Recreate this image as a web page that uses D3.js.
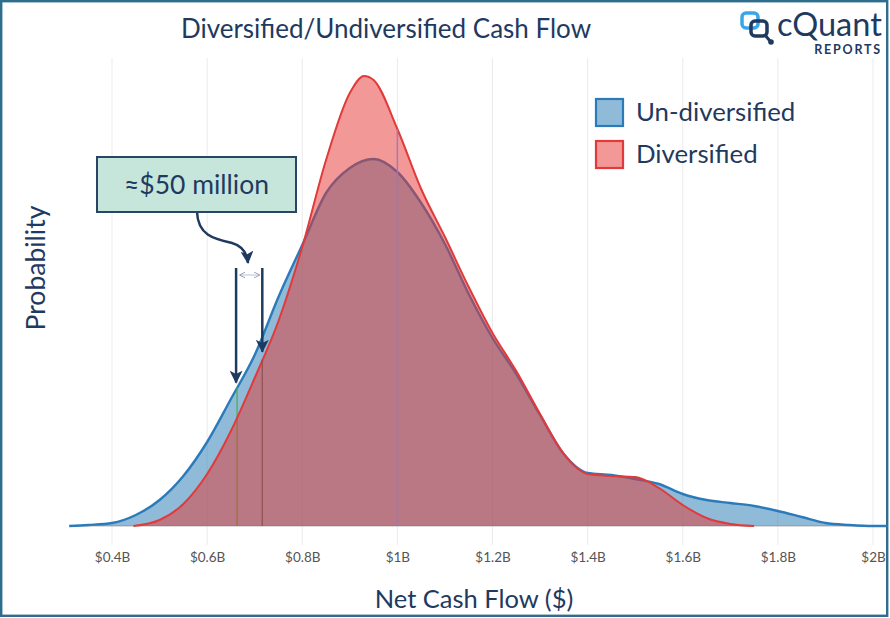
<!DOCTYPE html>
<html><head><meta charset="utf-8">
<script src="https://cdn.jsdelivr.net/npm/d3@7"></script>
<style>
body{margin:0;background:#fff}
svg{display:block}
text{font-family:Lato,"Open Sans",sans-serif}
</style>
</head><body>
<svg id="c" width="890" height="618"></svg>
<script>
// ---- data ----
const xTicks = [0.4, 0.6, 0.8, 1.0, 1.2, 1.4, 1.6, 1.8, 2.0];
const tickLabels = ["$0.4B", "$0.6B", "$0.8B", "$1B", "$1.2B", "$1.4B", "$1.6B", "$1.8B", "$2B"];
const seriesNames = ["Un-diversified", "Diversified"];

const undivX = [0.31, 0.35, 0.4, 0.45, 0.5, 0.55, 0.6, 0.65, 0.7, 0.75, 0.8, 0.85, 0.9, 0.95, 1.0, 1.05, 1.1, 1.15, 1.2, 1.25, 1.3, 1.35, 1.4, 1.45, 1.5, 1.55, 1.6, 1.65, 1.7, 1.75, 1.8, 1.85, 1.9, 1.95, 2.0, 2.03];
const undivY = [0, 0.01, 0.03, 0.11, 0.26, 0.50, 0.84, 1.27, 1.71, 2.29, 2.81, 3.33, 3.58, 3.67, 3.54, 3.23, 2.82, 2.32, 1.88, 1.52, 1.11, 0.72, 0.53, 0.51, 0.47, 0.42, 0.32, 0.26, 0.23, 0.20, 0.15, 0.09, 0.03, 0.01, 0, 0];

const divX = [0.445, 0.5, 0.55, 0.6, 0.65, 0.7, 0.75, 0.8, 0.85, 0.9, 0.93, 0.95, 1.0, 1.05, 1.1, 1.15, 1.2, 1.25, 1.3, 1.35, 1.4, 1.45, 1.5, 1.55, 1.6, 1.65, 1.7, 1.75];
const divY = [0, 0.06, 0.22, 0.52, 0.95, 1.48, 2.05, 2.79, 3.66, 4.33, 4.50, 4.46, 3.97, 3.37, 2.89, 2.39, 1.93, 1.55, 1.12, 0.72, 0.52, 0.50, 0.49, 0.38, 0.21, 0.08, 0.02, 0];

const markerX = [0.663, 0.716];     // percentile lines (≈$50 million apart)
const meanX = 1.0;
const annotationText = "≈$50 million";
const arrowTopY = 2.58;              // top of the two annotation arrows (density units)

// ---- layout ----
const svg = d3.select("#c");
const x = d3.scaleLinear().domain([0.4, 2.0]).range([112, 873]);
const y = d3.scaleLinear().domain([0, 4.5]).range([526, 76]);
const navy = "#1f3a5f";

const undiv = undivX.map((v, i) => ({x: v, y: undivY[i]}));
const div = divX.map((v, i) => ({x: v, y: divY[i]}));
function interp(arrX, arrY, v) {
  for (let i = 0; i < arrX.length - 1; i++) {
    if (v >= arrX[i] && v <= arrX[i + 1]) {
      const t = (v - arrX[i]) / (arrX[i + 1] - arrX[i]);
      return arrY[i] + t * (arrY[i + 1] - arrY[i]);
    }
  }
  return 0;
}

// defs
const defs = svg.append("defs");
defs.append("marker").attr("id", "head").attr("viewBox", "0 0 12 12")
  .attr("refX", 11).attr("refY", 6).attr("markerWidth", 13).attr("markerHeight", 13)
  .attr("markerUnits", "userSpaceOnUse").attr("orient", "auto")
  .append("path").attr("d", "M0,0 L12,6 L0,12 L3,6 Z").attr("fill", navy);
defs.append("marker").attr("id", "small").attr("viewBox", "0 0 10 10")
  .attr("refX", 9).attr("refY", 5).attr("markerWidth", 6).attr("markerHeight", 6)
  .attr("markerUnits", "userSpaceOnUse").attr("orient", "auto-start-reverse")
  .append("path").attr("d", "M0,0 L10,5 L0,10").attr("fill", "none").attr("stroke", "#8f9bb0").attr("stroke-width", 1.5);

// frame
svg.append("rect").attr("x", 1.2).attr("y", 1.2).attr("width", 886).attr("height", 614.6)
  .attr("fill", "#fff").attr("stroke", "#2f6d8c").attr("stroke-width", 2.4);

// gridlines
svg.append("g").selectAll("line").data(xTicks).join("line")
  .attr("x1", d => x(d)).attr("x2", d => x(d)).attr("y1", 58).attr("y2", 545)
  .attr("stroke", "#ebebeb").attr("stroke-width", 1);

// x axis labels
const ax = svg.append("g").attr("transform", "translate(0,526)")
  .call(d3.axisBottom(x).tickValues(xTicks).tickFormat((d, i) => tickLabels[i]).tickSize(0).tickPadding(26));
ax.select(".domain").remove();
ax.selectAll("text").attr("font-family", "Lato, sans-serif").attr("font-size", 13.5).attr("fill", "#555");

// baseline
svg.append("line").attr("x1", x(0.31)).attr("x2", x(2.03)).attr("y1", y(0)).attr("y2", y(0))
  .attr("stroke", "#b8b8b8").attr("stroke-width", 1);

const area = d3.area().x(d => x(d.x)).y0(y(0)).y1(d => y(d.y)).curve(d3.curveMonotoneX);
const line = d3.line().x(d => x(d.x)).y(d => y(d.y)).curve(d3.curveMonotoneX);

// un-diversified
svg.append("path").datum(undiv).attr("d", area).attr("fill", "rgba(31,119,180,0.5)");
svg.append("path").datum(undiv).attr("d", line).attr("fill", "none").attr("stroke", "#2b7bba").attr("stroke-width", 2.4);

// percentile line under the diversified fill
svg.append("line").attr("x1", x(markerX[0])).attr("x2", x(markerX[0]))
  .attr("y1", y(0)).attr("y2", y(interp(undivX, undivY, markerX[0])))
  .attr("stroke", "#4caf50").attr("stroke-width", 1.3);

// diversified
svg.append("path").datum(div).attr("d", area).attr("fill", "rgba(230,52,48,0.5)");
svg.append("path").datum(div).attr("d", line).attr("fill", "none").attr("stroke", "#e23a3a").attr("stroke-width", 2);

svg.append("line").attr("x1", x(markerX[1])).attr("x2", x(markerX[1]))
  .attr("y1", y(0)).attr("y2", y(interp(divX, divY, markerX[1])))
  .attr("stroke", "#8a4d48").attr("stroke-width", 1.3).attr("opacity", 0.8);
svg.append("line").attr("x1", x(meanX)).attr("x2", x(meanX))
  .attr("y1", y(0)).attr("y2", y(interp(divX, divY, meanX)))
  .attr("stroke", "#9a78c0").attr("stroke-width", 1.5).attr("opacity", 0.9);

// annotation arrows
const tipL = interp(undivX, undivY, markerX[0]) + 0.05;
const tipR = interp(divX, divY, markerX[1]) + 0.08;
svg.append("line").attr("x1", x(markerX[0]) - 1).attr("x2", x(markerX[0]) - 1)
  .attr("y1", y(arrowTopY)).attr("y2", y(tipL))
  .attr("stroke", navy).attr("stroke-width", 2.5).attr("marker-end", "url(#head)");
svg.append("line").attr("x1", x(markerX[1])).attr("x2", x(markerX[1]))
  .attr("y1", y(arrowTopY)).attr("y2", y(tipR))
  .attr("stroke", navy).attr("stroke-width", 2.5).attr("marker-end", "url(#head)");
svg.append("line").attr("x1", x(markerX[0]) + 3).attr("x2", x(markerX[1]) - 3)
  .attr("y1", y(arrowTopY) + 7).attr("y2", y(arrowTopY) + 7)
  .attr("stroke", "#c9d0dc").attr("stroke-width", 1.3)
  .attr("marker-start", "url(#small)").attr("marker-end", "url(#small)");

// callout box
const bx = 97, by = 157, bw = 199, bh = 55;
svg.append("path")
  .attr("d", `M${bx + 100},${by + bh} C${bx + 101},${by + bh + 24} ${bx + 118},${by + bh + 27} ${bx + 135},${by + bh + 31} C${bx + 145},${by + bh + 34} ${bx + 150},${by + bh + 40} ${bx + 151},${by + bh + 51}`)
  .attr("fill", "none").attr("stroke", navy).attr("stroke-width", 2.5).attr("marker-end", "url(#head)");
svg.append("rect").attr("x", bx).attr("y", by).attr("width", bw).attr("height", bh)
  .attr("fill", "#c6e6dc").attr("stroke", "#2a4466").attr("stroke-width", 2);
svg.append("text").attr("x", bx + bw / 2).attr("y", by + 37).attr("text-anchor", "middle")
  .attr("font-size", 26.5).attr("fill", navy).text(annotationText);

// title
svg.append("text").attr("x", 386).attr("y", 38).attr("text-anchor", "middle")
  .attr("font-size", 26).attr("fill", navy).text("Diversified/Undiversified Cash Flow");

// axis titles
svg.append("text").attr("x", 474).attr("y", 608).attr("text-anchor", "middle")
  .attr("font-size", 25.5).attr("fill", navy).text("Net Cash Flow ($)");
svg.append("text").attr("transform", "translate(45,268) rotate(-90)").attr("text-anchor", "middle")
  .attr("font-size", 26.5).attr("fill", navy).text("Probability");

// legend
const leg = svg.append("g");
const legFill = ["rgba(31,119,180,0.5)", "rgba(230,52,48,0.5)"];
const legStroke = ["#2b7bba", "#e23a3a"];
seriesNames.forEach((n, i) => {
  const gy = 99 + i * 42;
  leg.append("rect").attr("x", 596).attr("y", gy).attr("width", 27).attr("height", 27)
    .attr("fill", legFill[i]).attr("stroke", legStroke[i]).attr("stroke-width", 2.2);
  leg.append("text").attr("x", 636).attr("y", gy + 22).attr("font-size", 25.8).attr("fill", navy).text(n);
});

// logo
const logo = svg.append("g");
logo.append("rect").attr("x", 742).attr("y", 13).attr("width", 16).attr("height", 15).attr("rx", 4)
  .attr("fill", "none").attr("stroke", "#3aa6ea").attr("stroke-width", 3.5);
logo.append("rect").attr("x", 751).attr("y", 21).attr("width", 16).attr("height", 15).attr("rx", 4)
  .attr("fill", "none").attr("stroke", "#1f3a5f").attr("stroke-width", 3.5);
logo.append("line").attr("x1", 765).attr("y1", 35).attr("x2", 770).attr("y2", 41)
  .attr("stroke", "#1f3a5f").attr("stroke-width", 3);
logo.append("circle").attr("cx", 771).attr("cy", 42).attr("r", 2.8).attr("fill", "#1f3a5f");
logo.append("text").attr("x", 777).attr("y", 36).attr("font-size", 32.5).attr("fill", "#1f3a5f").text("cQuant");
logo.append("text").attr("x", 882).attr("y", 54).attr("text-anchor", "end").attr("font-size", 12.5)
  .attr("font-weight", "bold").attr("letter-spacing", 1.8).attr("fill", "#1f3a5f").text("REPORTS");
</script>
</body></html>
